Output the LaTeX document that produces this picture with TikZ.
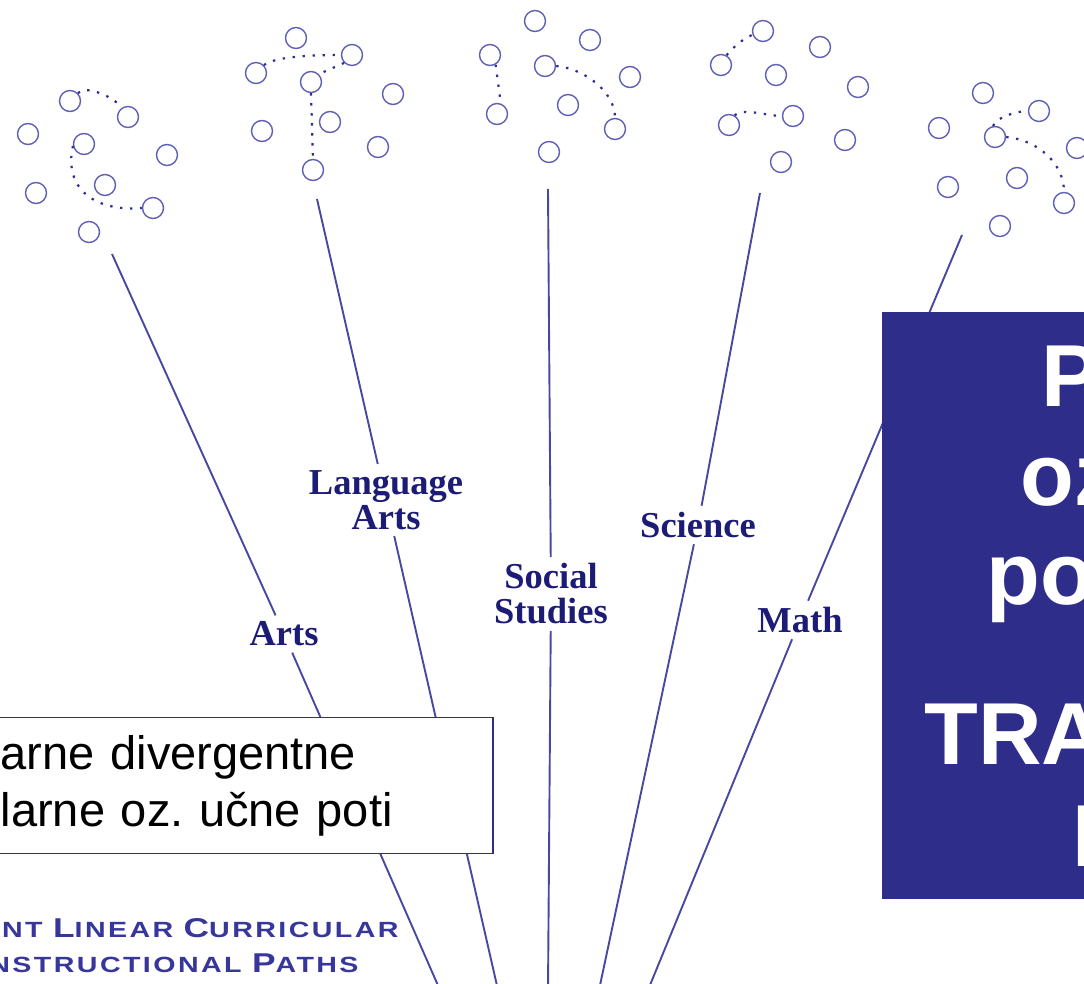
\documentclass[tikz,border=0pt]{standalone}
\usepackage{fontspec}
\setmainfont{Liberation Serif}
\newfontfamily\arialfont{Liberation Sans}
\newfontfamily\platefont[FakeStretch=1.3,LetterSpace=11]{Liberation Sans}
\usepackage{tikz}
\usetikzlibrary{positioning, calc}
\frenchspacing
\definecolor{navy}{RGB}{46,46,138}
\definecolor{stemblue}{RGB}{72,72,160}
\definecolor{ballblue}{RGB}{95,95,180}
\definecolor{trailblue}{RGB}{45,45,150}
\definecolor{labelblue}{RGB}{28,28,118}
\definecolor{capblue}{RGB}{55,55,155}
\newcommand{\capinit}[1]{{\fontsize{13.6}{13.6}\selectfont #1}}
\tikzset{
    ball/.style={
        circle,
        draw=ballblue,
        line width=0.7pt,
        minimum size=10.5pt,
        inner sep=0pt
    },
    trail/.style={
        draw=trailblue,
        line width=1.1pt,
        dash pattern=on 1.2pt off 3.8pt
    },
    stem/.style={
        draw=stemblue,
        line width=0.95pt
    },
    subject/.style={
        font=\fontsize{18.25}{17.5}\selectfont\bfseries,
        text=labelblue,
        align=center,
        inner sep=3pt
    },
    note/.style={
        rectangle,
        draw=navy,
        line width=0.75pt,
        fill=white,
        minimum width=251pt,
        minimum height=68pt,
        text width=241pt,
        inner xsep=5pt,
        align=left,
        font=\arialfont\fontsize{23.5}{28.5}\selectfont
    },
    panel/.style={
        rectangle,
        fill=navy,
        draw=none,
        inner sep=0pt,
        minimum width=111pt,
        minimum height=293.5pt
    },
    paneltext/.style={
        font=\arialfont\bfseries\fontsize{44}{44}\selectfont,
        text=white,
        inner sep=0pt,
        anchor=base west
    },
    caption/.style={
        font=\platefont\bfseries\fontsize{11}{11}\selectfont,
        text=capblue,
        inner sep=0pt,
        anchor=base east
    }
}
\begin{document}
\begin{tikzpicture}[x=0.5pt, y=-0.5pt]
\useasboundingbox (0,0) rectangle (1084,984);
\clip (0,0) rectangle (1084,984);

% Stems with subject labels
\coordinate (artsTop) at (112,254);
\coordinate (artsBase) at (440,990);
\node[subject] (arts) at (284,634) {Arts};
\draw[stem] (artsTop) -- (arts);
\draw[stem] (arts) -- (artsBase);

\coordinate (langTop) at (317,199);
\coordinate (langBase) at (498,990);
\node[subject] (lang) at (386,500) {Language\\Arts};
\draw[stem] (langTop) -- (lang);
\draw[stem] (lang) -- (langBase);

\coordinate (socTop) at (548,189);
\coordinate (socBase) at (548,990);
\node[subject] (soc) at (551,594) {Social\\Studies};
\draw[stem] (socTop) -- (soc);
\draw[stem] (soc) -- (socBase);

\coordinate (sciTop) at (760,193);
\coordinate (sciBase) at (599,990);
\node[subject] (sci) at (698,525) {Science};
\draw[stem] (sciTop) -- (sci);
\draw[stem] (sci) -- (sciBase);

\coordinate (mathTop) at (962,235);
\coordinate (mathBase) at (648,990);
\node[subject] (math) at (800,620) {Math};
\draw[stem] (mathTop) -- (math);
\draw[stem] (math) -- (mathBase);

% Arts cluster
\foreach \n/\x/\y in {1/70/101, 2/128/117, 3/28/134, 4/84/144, 5/167/155,
                      6/36/193, 7/105/185, 8/153/208, 9/89/232}
    \node[ball] (a\n) at (\x,\y) {};
\draw[trail] (a1.45) .. controls +(8,-9) and +(-6,-10) .. (a2.125);
\draw[trail] (a4.190) .. controls +(-10,44) and +(-45,4) .. (a8.west);

% Language Arts cluster
\foreach \n/\x/\y in {1/296/38, 2/352/55, 3/256/73, 4/311/82, 5/393/94,
                      6/262/131, 7/330/122, 8/378/147, 9/313/170}
    \node[ball] (b\n) at (\x,\y) {};
\draw[trail] (b3.45) .. controls +(12,-9) and +(-25,0) .. (b2.west);
\draw[trail] (b2.225) -- (b4.45);
\draw[trail] (b4.south) -- (b9.north);

% Social Studies cluster
\foreach \n/\x/\y in {1/535/21, 2/590/40, 3/490/55, 4/545/66, 5/630/77,
                      6/568/105, 7/497/114, 8/615/129, 9/549/152}
    \node[ball] (c\n) at (\x,\y) {};
\draw[trail] (c3.-60) -- (c7.70);
\draw[trail] (c4.east) .. controls +(25,2) and +(0,-28) .. (c8.north);

% Science cluster
\foreach \n/\x/\y in {1/763/31, 2/820/47, 3/721/65, 4/776/75, 5/858/87,
                      6/729/125, 7/793/116, 8/845/140, 9/781/162}
    \node[ball] (d\n) at (\x,\y) {};
\draw[trail] (d3.60) .. controls +(6,-8) and +(-8,3) .. (d1.200);
\draw[trail] (d6.60) .. controls +(8,-8) and +(-15,0) .. (d7.west);

% Math cluster
\foreach \n/\x/\y in {1/983/93, 2/1039/111, 3/939/128, 4/995/137, 5/1077/148,
                      6/948/187, 7/1017/178, 8/1064/203, 9/1000/226}
    \node[ball] (e\n) at (\x,\y) {};
\draw[trail] (e4.100) .. controls +(3,-9) and +(-10,0) .. (e2.west);
\draw[trail] (e4.east) .. controls +(32,3) and +(0,-28) .. (e8.north);

% Note box
\node[note, anchor=north west] (note) at (-10,717) {arne divergentne\\larne oz. učne poti};

% Caption
\node[caption] (cap1) at (399,938) {NT \capinit{L}INEAR \capinit{C}URRICULAR};
\node[caption] (cap2) at (359,972) {NSTRUCTIONAL \capinit{P}ATHS};

% Title panel
\node[panel, anchor=north west] (panel) at (882,312) {};
\foreach \n/\x/\y/\t in {1/1041/407/P, 2/1020/506/oz, 3/986/605/po,
                         4/924/765/TRA, 5/1072/867/I}
    \node[paneltext] (line\n) at (\x,\y) {\t};

\end{tikzpicture}
\end{document}
